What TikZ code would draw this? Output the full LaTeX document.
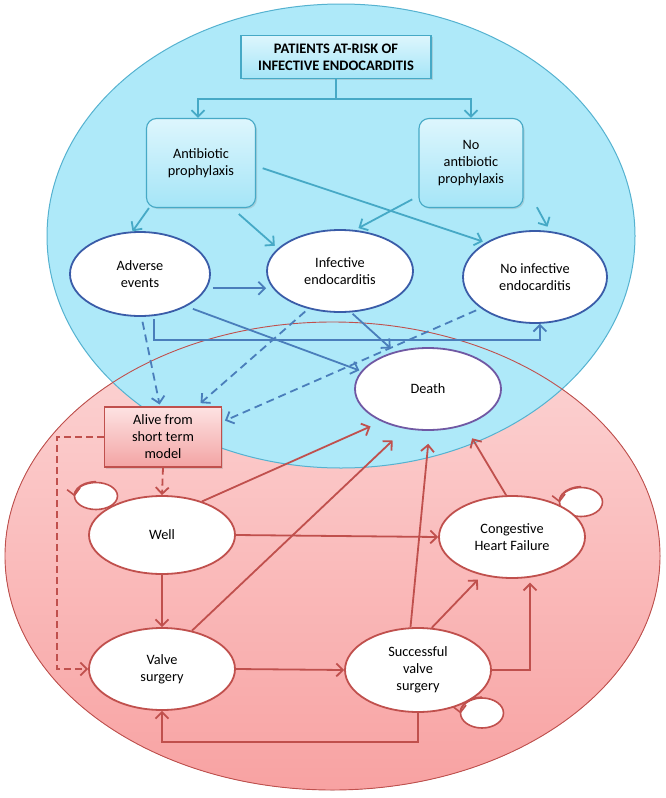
\documentclass[tikz,border=0pt]{standalone}
\usepackage{fontspec}
\setmainfont{Carlito}
\usetikzlibrary{shapes.geometric,arrows.meta,calc,shadows}
\definecolor{tealc}{HTML}{46A9C6}
\definecolor{bluearr}{HTML}{4A7EBB}
\definecolor{bluedge}{HTML}{3A5CA8}
\definecolor{deathedge}{HTML}{7058A3}
\definecolor{rededge}{HTML}{C0504D}
\definecolor{bluefill}{HTML}{AEE9F9}
\definecolor{blueline}{HTML}{55B2D0}
\definecolor{redtop}{HTML}{FCD6D6}
\definecolor{redbot}{HTML}{F8A2A2}
\definecolor{boxtop}{HTML}{DDF6FD}
\definecolor{boxbot}{HTML}{A5E5F7}
\definecolor{pinktop}{HTML}{FDE2E2}
\definecolor{pinkbot}{HTML}{F3A4A4}
\begin{document}
\begin{tikzpicture}[x=1pt,y=-1pt,font=\fontsize{14.3}{17}\selectfont,
  ell/.style={ellipse,inner sep=0pt,fill=white,align=center,line width=1.8pt},
  bnode/.style={ell,draw=bluedge},
  rnode/.style={ell,draw=rededge},
  loopnode/.style={ellipse,inner sep=0pt,fill=white,draw=rededge,line width=1.6pt},
  tbox/.style={rectangle,draw=tealc,line width=1.1pt,top color=boxtop,bottom color=boxbot,align=center,inner sep=0pt,
     drop shadow={opacity=0.25,shadow xshift=1.5pt,shadow yshift=-1.5pt}},
  pbox/.style={rectangle,draw=rededge,line width=1.1pt,top color=pinktop,bottom color=pinkbot,align=center,inner sep=0pt,
     drop shadow={opacity=0.25,shadow xshift=1.5pt,shadow yshift=-1.5pt}},
  tip/.style={-{Straight Barb[length=6.5pt,width=13pt]}},
  tarr/.style={tip,draw=tealc,line width=1.8pt},
  barr/.style={tip,draw=bluearr,line width=1.8pt},
  bdash/.style={barr,dash pattern=on 8pt off 5pt},
  rarr/.style={tip,draw=rededge,line width=1.8pt},
  rdash/.style={rarr,dash pattern=on 7pt off 4pt}
]
\useasboundingbox (0,0) rectangle (666,798);
\fill[white] (0,0) rectangle (666,798);
% background regions
\fill[top color=redtop,bottom color=redbot] (332.5,556) ellipse [x radius=327.5,y radius=234];
\filldraw[fill=bluefill,draw=blueline,line width=1pt] (341,236) ellipse [x radius=294,y radius=232];
\draw[rededge,line width=0.9pt] (332.5,556) ellipse [x radius=327.5,y radius=234];

% top nodes
\node[tbox,minimum width=190pt,minimum height=43pt,font=\fontsize{14.5}{17}\selectfont\bfseries] (P) at (336,57) {PATIENTS AT-RISK OF\\INFECTIVE ENDOCARDITIS};
\node[tbox,rounded corners=10pt,minimum width=109pt,minimum height=89pt] (AP) at (201,163) {Antibiotic\\prophylaxis};
\node[tbox,rounded corners=10pt,minimum width=104pt,minimum height=89pt] (NAP) at (471,163) {No\\antibiotic\\prophylaxis};
\node[bnode,minimum width=140pt,minimum height=84pt] (AE) at (140,274) {Adverse\\events};
\node[bnode,minimum width=146pt,minimum height=82pt] (IE) at (340,271) {Infective\\endocarditis};
\node[bnode,minimum width=144pt,minimum height=92pt] (NIE) at (535,277) {No infective\\endocarditis};
\node[ell,draw=deathedge,minimum width=146pt,minimum height=82pt] (D) at (428,389) {Death};

% loops (under main nodes)
\node[loopnode,minimum width=43pt,minimum height=27pt] (LW) at (96,496) {};
\node[loopnode,minimum width=43pt,minimum height=29pt] (LC) at (581,502) {};
\node[loopnode,minimum width=43pt,minimum height=30pt] (LS) at (482,713) {};

% bottom nodes
\node[pbox,minimum width=117pt,minimum height=60pt] (AL) at (163,437) {Alive from\\short term\\model};
\node[rnode,minimum width=146pt,minimum height=78pt] (W) at (162,535) {Well};
\node[rnode,minimum width=146pt,minimum height=82pt] (VS) at (162,669) {Valve\\surgery};
\node[rnode,minimum width=146pt,minimum height=84pt] (SVS) at (418,670) {Successful\\valve\\surgery};
\node[rnode,minimum width=146pt,minimum height=82pt] (CHF) at (512,537) {Congestive\\Heart Failure};

% teal arrows
\coordinate (split) at ($(P.south)+(0,20)$);
\draw[tarr] (P.south) -- (split) -| ([xshift=-3pt]AP.north);
\draw[tarr] (P.south) -- (split) -| (NAP.north);
\draw[tarr] ($(AP.south west)+(3,0)$) -- (AE.100);
\draw[tarr,shorten <=9pt,shorten >=4pt] ($(AP.south east)+(-24,0)$) -- (IE.160);
\draw[tarr,shorten <=7pt,shorten >=3pt] ($(AP.east)+(0,3)$) -- (NIE.145);
\draw[tarr,shorten <=7pt,shorten >=4pt] ($(NAP.south west)+(0,-12)$) -- (IE.70);
\draw[tarr,shorten <=7pt,shorten >=5pt] ($(NAP.south east)+(10,-7)$) -- (NIE.72);

% blue solid arrows
\draw[barr,shorten <=6pt] (AE.-12) -- (AE.-12 -| IE.west);
\draw[barr,shorten <=7pt,shorten >=2pt] (AE.-35) -- (D.165);
\coordinate (aeturn) at ($(AE.-72)+(0,24)$);
\draw[barr,shorten <=3pt] (AE.-72) -- (aeturn) -| (NIE.-84);
\draw[barr,shorten <=2pt,shorten >=5pt] (IE.-75) -- (D.132);

% blue dashed arrows
\draw[bdash,shorten <=5pt,shorten >=2pt] (AE.-88) -- ([xshift=-3pt]AL.north);
\draw[bdash,shorten <=4pt,shorten >=2pt] (IE.-130) -- ($(AL.north east)+(-23,-2)$);
\draw[bdash,shorten <=5pt,shorten >=1pt] (NIE.-150) -- ($(AL.east)+(2,-16)$);

% red arrows
\draw[rdash] (AL.south) -- (W.north);
\coordinate (alturn) at ($(AL.west)+(-47,0)$);
\draw[rdash] (AL.west) -- (alturn) |- (VS.west);
\draw[rarr,shorten >=12pt] (W.40) -- (D.-145);
\draw[rarr] (W.east) -- (CHF.west);
\draw[rarr] (W.south) -- (VS.north);
\draw[rarr,shorten >=17pt] (VS.52) -- (D.-120);
\draw[rarr] (VS.east) -- (SVS.west);
\draw[rarr,shorten >=13pt] (SVS.100) -- (D.-88);
\draw[rarr,shorten >=6pt] (SVS.72) -- (CHF.-128);
\draw[rarr,shorten >=5pt] (SVS.east) -| (CHF.-66);
\draw[rarr,shorten >=15pt] (CHF.98) -- (D.-45);
\coordinate (sturn) at ($(SVS.south)+(0,29)$);
\draw[rarr] (SVS.south) -- (sturn) -| (VS.south);

% loop arrowheads
\draw[rarr,line width=1.6pt] (LW.north) arc[start angle=90,end angle=185,x radius=21.5pt,y radius=13.5pt];
\draw[rarr,line width=1.6pt] (LC.north) arc[start angle=90,end angle=185,x radius=21.5pt,y radius=14.5pt];
\draw[rarr,line width=1.6pt] (LS.north) arc[start angle=90,end angle=185,x radius=21.5pt,y radius=15pt];
\end{tikzpicture}
\end{document}
